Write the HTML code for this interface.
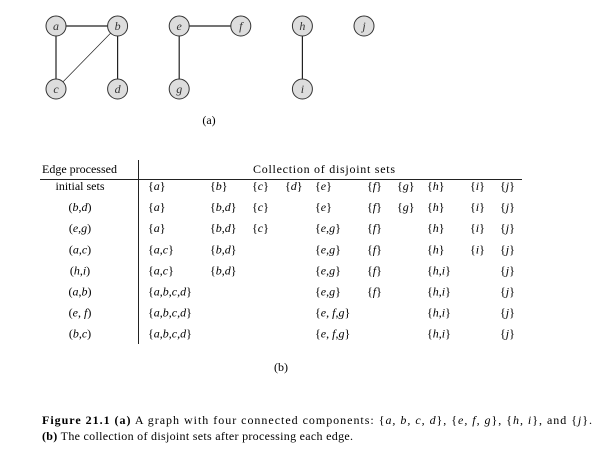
<!DOCTYPE html>
<html><head><meta charset="utf-8"><style>
body{margin:0;background:#fff;width:597px;height:462px;overflow:hidden;font-family:"Liberation Serif",serif;color:#222}
svg text{font-family:"Liberation Serif",serif}
</style></head><body>
<svg width="597" height="462">
<g id="graph" stroke="#222"></g>
<text x="209" y="124" font-size="12" text-anchor="middle">(a)</text>
<g font-size="12">
<text x="42" y="173">Edge processed</text>
<text x="253" y="173" textLength="142" lengthAdjust="spacing">Collection of disjoint sets</text>
<line x1="40" y1="179.5" x2="522" y2="179.5" stroke="#222"/>
<line x1="138.5" y1="160" x2="138.5" y2="344" stroke="#222"/>
<g id="rows"></g>
</g>
<text x="281" y="371" font-size="12" text-anchor="middle">(b)</text>
<text x="42" y="424" font-size="12" textLength="550" lengthAdjust="spacing"><tspan font-weight="bold">Figure 21.1</tspan>   <tspan font-weight="bold">(a)</tspan> A graph with four connected components: {<tspan font-style="italic">a, b, c, d</tspan>}, {<tspan font-style="italic">e, f, g</tspan>}, {<tspan font-style="italic">h, i</tspan>}, and {<tspan font-style="italic">j</tspan>}.</text>
<text x="42" y="440" font-size="12" textLength="311" lengthAdjust="spacing"><tspan font-weight="bold">(b)</tspan> The collection of disjoint sets after processing each edge.</text>
</svg>
<script>
const nodeNames=['a','b','c','d','e','f','g','h','i','j'];
const nodeCol=[0,1,0,1,2,3,2,4,4,5];
const nodeRow=[0,0,1,1,0,0,1,0,1,0];
const edges=[['a','b'],['a','c'],['b','c'],['b','d'],['e','f'],['e','g'],['h','i']];
const rowEdges=['initial sets','(b,d)','(e,g)','(a,c)','(h,i)','(a,b)','(e, f)','(b,c)'];
const rowSets=[
['{a}','{b}','{c}','{d}','{e}','{f}','{g}','{h}','{i}','{j}'],
['{a}','{b,d}','{c}','','{e}','{f}','{g}','{h}','{i}','{j}'],
['{a}','{b,d}','{c}','','{e,g}','{f}','','{h}','{i}','{j}'],
['{a,c}','{b,d}','','','{e,g}','{f}','','{h}','{i}','{j}'],
['{a,c}','{b,d}','','','{e,g}','{f}','','{h,i}','','{j}'],
['{a,b,c,d}','','','','{e,g}','{f}','','{h,i}','','{j}'],
['{a,b,c,d}','','','','{e, f,g}','','','{h,i}','','{j}'],
['{a,b,c,d}','','','','{e, f,g}','','','{h,i}','','{j}']];
const NS='http://www.w3.org/2000/svg';
const px=c=>56+c*61.6, py=r=>26+r*63;
const g=document.getElementById('graph');
const pos={};
nodeNames.forEach((n,i)=>pos[n]=[px(nodeCol[i]),py(nodeRow[i])]);
edges.forEach(e=>{const l=document.createElementNS(NS,'line');


const [a,b]=[pos[e[0]],pos[e[1]]];
l.setAttribute('x1',a[0]);l.setAttribute('y1',a[1]);l.setAttribute('x2',b[0]);l.setAttribute('y2',b[1]);
l.setAttribute('stroke-width',(e[0]=='b'&&e[1]=='c')?0.7:1.2);g.appendChild(l);});
nodeNames.forEach(n=>{const c=document.createElementNS(NS,'circle');


c.setAttribute('cx',pos[n][0]);c.setAttribute('cy',pos[n][1]);c.setAttribute('r',10);
c.setAttribute('fill','#ddd');c.setAttribute('stroke','#333');g.appendChild(c);
const t=document.createElementNS(NS,'text');


t.setAttribute('x',pos[n][0]);t.setAttribute('y',pos[n][1]+4);t.setAttribute('text-anchor','middle');
t.setAttribute('font-size','12');t.setAttribute('font-style','italic');t.setAttribute('stroke','none');t.setAttribute('fill','#333');
t.textContent=n;g.appendChild(t);});
const colX=[148,210,252,285,315,367,397,427,470,500];
const rows=document.getElementById('rows');
const ry=k=>190+k*21.1;
function fmt(s){return s.replace(/[a-j]/g,m=>'<tspan font-style="italic">'+m+'</tspan>');}
rowEdges.forEach((e,k)=>{const t=document.createElementNS(NS,'text');


t.setAttribute('x',80);t.setAttribute('y',ry(k));t.setAttribute('text-anchor','middle');
t.innerHTML=k==0?e:fmt(e);rows.appendChild(t);
rowSets[k].forEach((s,j)=>{if(!s)return;const u=document.createElementNS(NS,'text');


u.setAttribute('x',colX[j]);u.setAttribute('y',ry(k));u.innerHTML=fmt(s);rows.appendChild(u);});});
</script>
</body></html>
